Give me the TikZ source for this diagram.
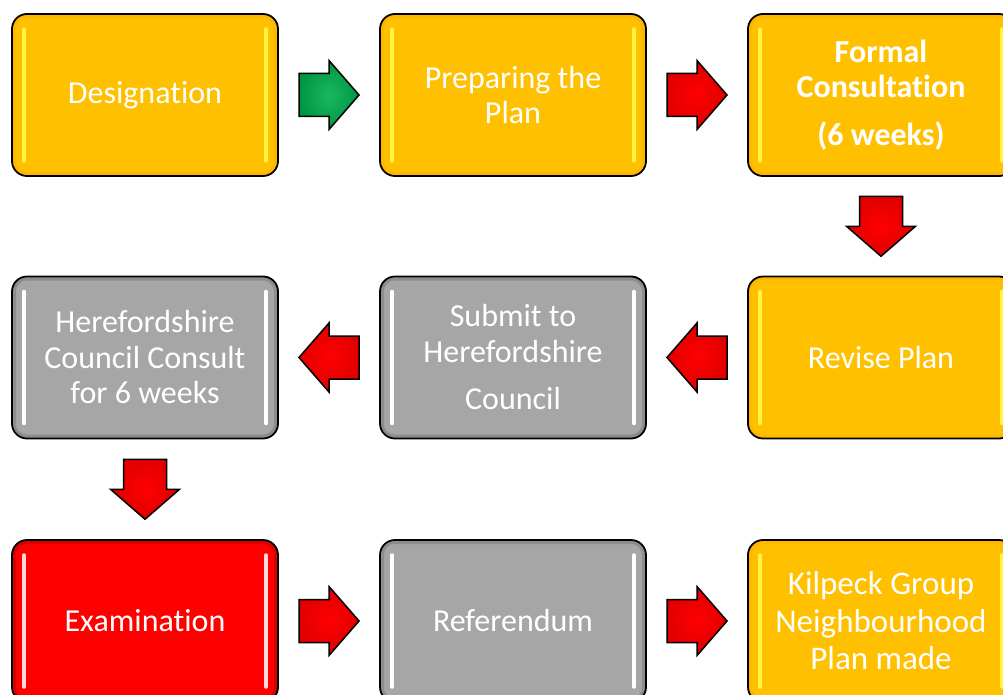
\documentclass[tikz,border=0pt]{standalone}
\usepackage{fontspec}
\setmainfont{Carlito}[Ligatures=NoCommon]
\usetikzlibrary{calc}

\definecolor{stageyellow}{HTML}{FFC000}
\definecolor{stagegrey}{HTML}{A6A6A6}
\definecolor{stagered}{HTML}{FF0000}
\definecolor{arrowgreen}{HTML}{00B050}

\tikzset{
  stage/.style={rectangle, rounded corners=15pt, draw=black, line width=1.8pt,
    minimum width=266pt, minimum height=162pt, inner sep=0pt, text=white,
    align=center, font=\fontsize{32}{35.5}\selectfont},
  shine/.style 2 args={path picture={
      \draw[line width=7pt, #1, rounded corners=14pt]
        ([shift={(0.5pt,-0.5pt)}]path picture bounding box.north west) rectangle
        ([shift={(-0.5pt,0.5pt)}]path picture bounding box.south east);
      \draw[line width=3.5pt, line cap=round, #2]
        ([shift={(12pt,-15pt)}]path picture bounding box.north west) --
        ([shift={(12pt,15pt)}]path picture bounding box.south west);
      \draw[line width=3.5pt, line cap=round, #2]
        ([shift={(-12pt,-15pt)}]path picture bounding box.north east) --
        ([shift={(-12pt,15pt)}]path picture bounding box.south east);
  }},
  yellowstage/.style={stage, fill=stageyellow, shine={stageyellow!85!orange}{yellow!75!white}},
  greystage/.style={stage, fill=stagegrey, shine={stagegrey!85!black}{white}},
  redstage/.style={stage, fill=stagered, shine={stagered!85!black}{red!15!white}},
  % block arrow pointing right, centred on the pic origin
  blockarrow/.pic={
    \draw[draw=black, line width=1.5pt, line join=miter, pic actions]
      (-30,-21.5) -- (0,-21.5) -- (0,-34.5) -- (30,0) -- (0,34.5) -- (0,21.5) -- (-30,21.5) -- cycle;
  },
  flowarrow/.style={inner color=red, outer color=red!88!black},
  goarrow/.style={inner color=arrowgreen!90!white, outer color=arrowgreen!85!black}
}

\begin{document}
\begin{tikzpicture}[x=1pt, y=-1pt]
  \useasboundingbox (0,0) rectangle (1003,695);
  \clip (0,0) rectangle (1003,695);

  % first row
  \node[yellowstage] (desig) at (145,95) {Designation};
  \node[yellowstage] (prep) at (513,95) {Preparing the\\Plan};
  \node[yellowstage, font=\fontsize{32}{35.5}\selectfont\bfseries] (formal) at (881,95) {Formal\\Consultation\\[12pt](6 weeks)};

  % second row, runs right to left
  \node[yellowstage] (revise) at (881,357.5) {Revise Plan};
  \node[greystage] (submit) at (513,357.5) {Submit to\\Herefordshire\\[12pt]Council};
  \node[greystage] (consult) at (145,357.5) {Herefordshire\\Council Consult\\for 6 weeks};

  % third row
  \node[redstage] (exam) at (145,621) {Examination};
  \node[greystage] (refer) at (513,621) {Referendum};
  \node[yellowstage, font=\fontsize{33}{37.5}\selectfont] (made) at (881,621) {Kilpeck Group\\Neighbourhood\\Plan made};

  % block arrows between the stages
  \pic[goarrow] at ($(desig.east)!0.5!(prep.west)$) {blockarrow};
  \pic[flowarrow] at ($(prep.east)!0.5!(formal.west)$) {blockarrow};
  \pic[flowarrow, rotate=270] at ($(formal.south)!0.5!(revise.north)$) {blockarrow};
  \pic[flowarrow, rotate=180] at ($(revise.west)!0.5!(submit.east)$) {blockarrow};
  \pic[flowarrow, rotate=180] at ($(submit.west)!0.5!(consult.east)$) {blockarrow};
  \pic[flowarrow, rotate=270] at ($(consult.south)!0.5!(exam.north)$) {blockarrow};
  \pic[flowarrow] at ($(exam.east)!0.5!(refer.west)$) {blockarrow};
  \pic[flowarrow] at ($(refer.east)!0.5!(made.west)$) {blockarrow};
\end{tikzpicture}
\end{document}
